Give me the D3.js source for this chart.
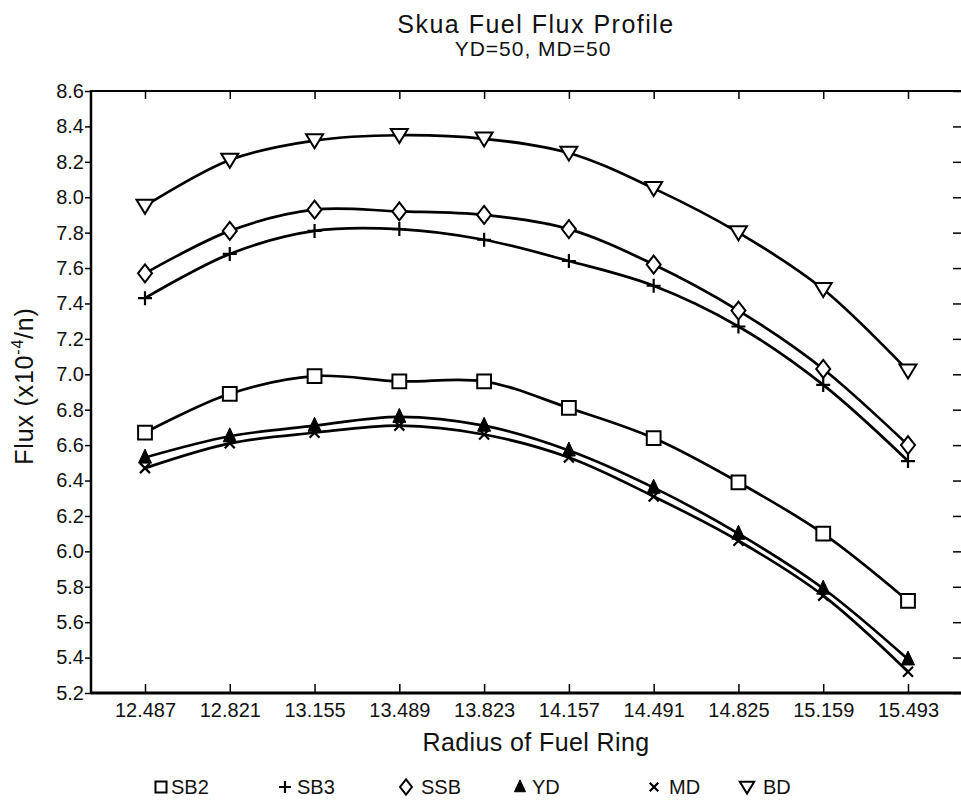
<!DOCTYPE html>
<html>
<head>
<meta charset="utf-8">
<script src="https://cdn.jsdelivr.net/npm/d3@7"></script>
<style>
  body { margin: 0; background: #fff; }
  svg text { font-family: "Liberation Sans", Arial, sans-serif; fill: #111; }
</style>
</head>
<body>
<div id="chartContainer"></div>
<script>
// radius of fuel ring (x categories)
const radii = ['12.487', '12.821', '13.155', '13.489', '13.823', '14.157', '14.491', '14.825', '15.159', '15.493']
const yTicks = [5.2, 5.4, 5.6, 5.8, 6.0, 6.2, 6.4, 6.6, 6.8, 7.0, 7.2, 7.4, 7.6, 7.8, 8.0, 8.2, 8.4, 8.6]

// flux values (x10^-4/n)
const sb2 = [6.67, 6.89, 6.99, 6.96, 6.96, 6.81, 6.64, 6.39, 6.10, 5.72]
const sb3 = [7.43, 7.68, 7.81, 7.82, 7.76, 7.64, 7.50, 7.27, 6.94, 6.51]
const ssb = [7.57, 7.81, 7.93, 7.92, 7.90, 7.82, 7.62, 7.36, 7.03, 6.60]
const yd  = [6.53, 6.65, 6.71, 6.76, 6.71, 6.57, 6.36, 6.10, 5.79, 5.39]
const md  = [6.47, 6.61, 6.67, 6.71, 6.66, 6.53, 6.31, 6.06, 5.75, 5.32]
const bd  = [7.95, 8.21, 8.32, 8.35, 8.33, 8.25, 8.05, 7.80, 7.48, 7.02]

const seriesNames = ['SB2', 'SB3', 'SSB', 'YD', 'MD', 'BD']
const seriesValues = [sb2, sb3, ssb, yd, md, bd]

const margin = { top: 91, right: 0, bottom: 107, left: 91 }
const width = 961
const height = 800

const svg = d3.select('#chartContainer').append('svg')
  .attr('width', width)
  .attr('height', height)
  .attr('xmlns', 'http://www.w3.org/2000/svg')

const x = d3.scalePoint().domain(radii).range([145, 908])
const y = d3.scaleLinear().domain([5.2, 8.6]).range([height - margin.bottom, margin.top])
const plotRight = 961

// marker shapes per series
const markers = {
  SB2: { type: d3.symbolSquare, size: 190, fill: '#fff' },
  SB3: { type: 'plus', size: 7 },
  SSB: { type: 'diamond', w: 7, h: 9 },
  YD:  { type: 'tri', w: 6.5, h: 14 },
  MD:  { type: 'cross', size: 5 },
  BD:  { type: 'dtri', w: 8.5, h: 14 }
}

function drawMarker (g, name, cx, cy, scale) {
  const m = markers[name]
  const s = scale || 1
  if (m.type === 'plus') {
    const r = m.size * s
    g.append('path')
      .attr('d', `M${cx - r},${cy}H${cx + r}M${cx},${cy - r}V${cy + r}`)
      .attr('stroke', '#000').attr('stroke-width', 2.2)
  } else if (m.type === 'cross') {
    const r = m.size * s
    g.append('path')
      .attr('d', `M${cx - r},${cy - r}L${cx + r},${cy + r}M${cx - r},${cy + r}L${cx + r},${cy - r}`)
      .attr('stroke', '#000').attr('stroke-width', 2.2)
  } else if (m.type === 'diamond') {
    const w = m.w * s, h = m.h * s
    g.append('path')
      .attr('d', `M${cx},${cy - h}L${cx + w},${cy}L${cx},${cy + h}L${cx - w},${cy}Z`)
      .attr('fill', '#fff').attr('stroke', '#000').attr('stroke-width', 2)
  } else if (m.type === 'tri') {
    const w = m.w * s, h = m.h * s
    g.append('path')
      .attr('d', `M${cx},${cy - h * 0.6}L${cx + w},${cy + h * 0.4}L${cx - w},${cy + h * 0.4}Z`)
      .attr('fill', '#000').attr('stroke', '#000').attr('stroke-width', 1)
  } else if (m.type === 'dtri') {
    const w = m.w * s, h = m.h * s
    g.append('path')
      .attr('d', `M${cx - w},${cy - h * 0.45}L${cx + w},${cy - h * 0.45}L${cx},${cy + h * 0.55}Z`)
      .attr('fill', '#fff').attr('stroke', '#000').attr('stroke-width', 2)
  } else {
    g.append('path')
      .attr('d', d3.symbol().type(m.type).size(m.size * s * s)())
      .attr('transform', `translate(${cx},${cy})`)
      .attr('fill', m.fill).attr('stroke', '#000').attr('stroke-width', 2)
  }
}

// Title
svg.append('text')
  .attr('x', 536).attr('y', 33)
  .attr('text-anchor', 'middle')
  .style('font-size', '25px')
  .style('letter-spacing', '1.5px')
  .text('Skua Fuel Flux Profile')
svg.append('text')
  .attr('x', 533).attr('y', 56)
  .attr('text-anchor', 'middle')
  .style('font-size', '21px')
  .style('letter-spacing', '1px')
  .text('YD=50, MD=50')

// Left axis
const yAxis = d3.axisLeft(y).tickValues(yTicks).tickFormat(d3.format('.1f')).tickSize(6).tickPadding(1)
const gy = svg.append('g')
  .attr('transform', `translate(${margin.left},0)`)
  .call(yAxis)
gy.select('.domain').attr('stroke-width', 2.5).attr('d', `M0,${y(8.6) - 1}V${y(5.2) + 1}`)
gy.selectAll('.tick line').attr('stroke-width', 1.5)
gy.selectAll('.tick text').style('font-size', '20px').style('font-family', '"Liberation Sans", Arial, sans-serif')

// Right ticks (inward)
const gr = svg.append('g')
  .attr('transform', `translate(${plotRight},0)`)
  .call(d3.axisLeft(y).tickValues(yTicks).tickFormat('').tickSize(8))
gr.select('.domain').remove()
gr.selectAll('.tick line').attr('stroke-width', 1.5)

// Bottom axis (ticks inward)
const gx = svg.append('g')
  .attr('transform', `translate(0,${y(5.2)})`)
  .call(d3.axisBottom(x).tickSize(-9).tickPadding(10))
gx.select('.domain').attr('stroke-width', 3).attr('d', `M${margin.left},0H${plotRight}`)
gx.selectAll('.tick line').attr('stroke-width', 1.5)
gx.selectAll('.tick text').style('font-size', '20px').style('font-family', '"Liberation Sans", Arial, sans-serif')

// Top border with ticks pointing down
const gt = svg.append('g')
  .attr('transform', `translate(0,${y(8.6)})`)
  .call(d3.axisTop(x).tickSize(-8).tickFormat(''))
gt.select('.domain').attr('stroke-width', 2.2).attr('d', `M${margin.left},0H${plotRight}`)
gt.selectAll('.tick line').attr('stroke-width', 1.5)

// Axis titles
svg.append('text')
  .attr('x', 536).attr('y', 751)
  .attr('text-anchor', 'middle')
  .style('font-size', '25px')
  .style('letter-spacing', '0.4px')
  .text('Radius of Fuel Ring')

const yl = svg.append('text')
  .attr('transform', `translate(33,386) rotate(-90)`)
  .attr('text-anchor', 'middle')
  .style('font-size', '25px')
  .style('letter-spacing', '0.8px')
yl.append('tspan').text('Flux (x10')
yl.append('tspan').attr('dy', -10).style('font-size', '16px').text('-4')
yl.append('tspan').attr('dy', 10).text('/n)')

// Lines
const line = d3.line()
  .x((d, i) => x(radii[i]))
  .y(d => y(d))
  .curve(d3.curveCatmullRom.alpha(0.5))

const plot = svg.append('g')
seriesValues.forEach((vals, k) => {
  plot.append('path')
    .datum(vals)
    .attr('d', line)
    .attr('fill', 'none')
    .attr('stroke', '#000')
    .attr('stroke-width', 2.7)
})

// Markers
seriesValues.forEach((vals, k) => {
  const g = plot.append('g')
  vals.forEach((v, i) => drawMarker(g, seriesNames[k], x(radii[i]), y(v)))
})

// Legend
const legendPos = [
  { sx: 161, tx: 171 },
  { sx: 285, tx: 297 },
  { sx: 406, tx: 421 },
  { sx: 520, tx: 532 },
  { sx: 654, tx: 669 },
  { sx: 747, tx: 763 }
]
const legendY = 787
const lg = svg.append('g')
seriesNames.forEach((name, k) => {
  drawMarker(lg, name, legendPos[k].sx, legendY, name === 'SB2' ? 0.8 : 0.85)
  lg.append('text')
    .attr('x', legendPos[k].tx).attr('y', legendY + 7)
    .style('font-size', '20px')
    .text(name)
})
</script>
</body>
</html>
